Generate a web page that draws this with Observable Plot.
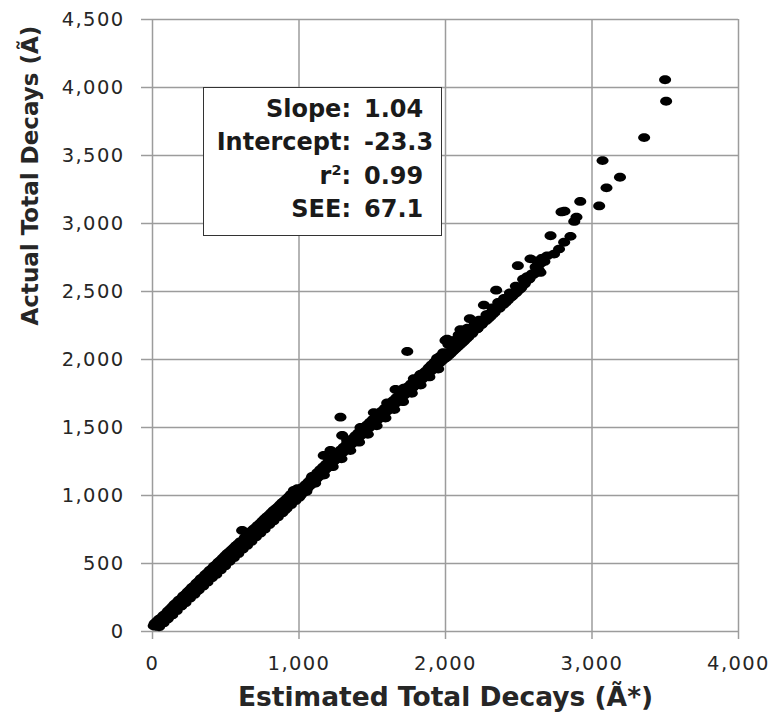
<!DOCTYPE html>
<html>
<head>
<meta charset="utf-8">
<script src="https://cdn.jsdelivr.net/npm/d3@7"></script>
<script src="https://cdn.jsdelivr.net/npm/@observablehq/plot@0.6"></script>
<style>
  html, body { margin: 0; padding: 0; background: #fff; }
  #wrap { position: relative; width: 775px; height: 714px; overflow: hidden; }
  g[aria-label="y-axis tick label"] text,
  g[aria-label="x-axis tick label"] text { letter-spacing: 1.4px; }
  #stats {
    position: absolute; left: 203px; top: 87px; width: 239px; height: 149px;
    box-sizing: border-box; border: 1.5px solid #333; background: #fff;
    font-family: "DejaVu Sans", sans-serif; font-weight: bold; font-size: 24px; color: #1a1a1a;
    display: grid; grid-template-columns: 147px auto; column-gap: 13px;
    line-height: 33.3px; padding-top: 5px; align-content: start;
  }
  #stats .lab { text-align: right; white-space: nowrap; }
  #stats .val { text-align: left; white-space: nowrap; }
  #stats sup { font-size: 0.6em; vertical-align: 0.62em; line-height: 0; }
</style>
</head>
<body>
<div id="wrap"></div>
<script>
// ---- axis ticks / titles ----
const xTicks = [0, 1000, 2000, 3000, 4000];
const yTicks = [0, 500, 1000, 1500, 2000, 2500, 3000, 3500, 4000, 4500];
const xTitle = "Estimated Total Decays (Ã*)";
const yTitle = "Actual Total Decays (Ã)";

// ---- regression statistics (text box) ----
const statLabels = ["Slope:", "Intercept:", "r2:", "SEE:"];
const statValues = ["1.04", "-23.3", "0.99", "67.1"];

// ---- points: estimated (x) and actual (y) ----
const estLow = [8,20,35,50,65,80,95,110,125,140,155,170,185,200,215,230,245,260,275,290,305,320,335,350,365,380,395,410,425,440,455,470,485,500,515,530,545,560,575,590,605,620,635,650,665,680,695,710,725,740,755,770,785,800,815,830,845,860,875,890,905,920,935,950,965,980,995];
const actLow = [42,38,55,62,80,95,108,130,140,160,175,190,205,222,240,252,270,285,300,318,332,350,362,380,398,410,428,445,458,472,490,505,520,535,552,565,582,598,612,628,640,655,672,685,700,715,728,742,758,770,786,800,815,830,842,858,872,886,900,915,928,942,958,970,985,998,1012];

const estLowUp = [30,60,90,120,150,180,210,240,270,300,330,360,390,420,450,480,510,540,570,612,600,630,660,690,720,750,780,810,840,870,900,930,965,990,100,200,300,400,500,600,700,800,900,1000];
const actLowUp = [75,100,130,165,200,230,262,292,325,355,388,418,450,480,510,540,572,600,632,743,660,690,722,752,782,812,842,872,902,930,960,990,1037,1050,90,195,295,395,498,600,700,795,890,985];

const estLowEdge = [45,75,105,135,165,195,225,255,285,315,345,375,405,435,465,495,525,555,585,615,645,675,705,735,765,795,825,855,885,915,945,975];
const actLowEdge = [35,62,95,122,152,185,212,245,272,305,332,362,395,420,452,482,515,542,572,605,632,662,695,722,752,785,812,842,872,905,932,962];

const estUpEdge = [15,45,75,105,135,165,195,225,255,285,315,345,375,405,435,465,495,525,555,585,645,675,705,735,765,795,825,855,885,915,945,975];
const actUpEdge = [60,90,118,150,180,212,240,272,305,335,368,398,430,460,492,522,555,585,615,645,705,738,765,795,828,855,888,915,948,975,1008,1030];

const estMid = [1010,1040,1070,1100,1130,1160,1190,1220,1250,1280,1310,1340,1370,1400,1430,1460,1490,1520,1550,1580,1610,1640,1670,1700,1730,1760,1790,1820,1850,1880,1910,1940,1970,1995,
  1025,1065,1105,1145,1185,1225,1265,1305,1345,1385,1425,1465,1505,1545,1585,1625,1665,1705,1745,1785,1825,1865,1905,1945,1985,
  1050,1110,1170,1230,1290,1350,1410,1470,1530,1590,1650,1710,1770,1830,1890,1950];
const actMid = [1000,1035,1068,1100,1135,1168,1200,1232,1265,1298,1330,1360,1392,1420,1450,1480,1512,1540,1572,1600,1630,1660,1690,1720,1750,1778,1808,1838,1866,1895,1925,1955,1985,2010,
  1060,1100,1145,1190,1230,1270,1315,1355,1395,1440,1480,1520,1560,1600,1640,1680,1720,1760,1800,1840,1880,1915,1960,2000,2050,
  1030,1090,1150,1212,1270,1330,1392,1450,1512,1570,1632,1690,1752,1812,1872,1930];

const estMidFill = [1025,1055,1085,1115,1145,1175,1205,1235,1265,1295,1325,1355,1385,1415,1445,1475,1505,1535,1565,1595,1625,1655,1685,1715,1745,1775,1805,1835,1865,1895,1925,1955,1985,
  1045,1085,1125,1165,1205,1245,1285,1325,1365,1405,1445,1485,1525,1565,1605,1645,1685,1725,1765,1805,1845,1885,1925,1965];
const actMidFill = [1018,1050,1085,1118,1150,1185,1215,1250,1282,1312,1345,1375,1405,1435,1465,1495,1525,1555,1585,1615,1645,1675,1705,1735,1765,1792,1822,1852,1880,1910,1940,1970,2000,
  1080,1125,1168,1210,1250,1292,1335,1375,1418,1460,1500,1540,1580,1620,1660,1700,1740,1780,1820,1860,1898,1938,1980,2025];

const estMidUp = [1090,1169,1215,1283,1295,1329,1420,1511,1602,1659,1716,1739,1784,1829,1898,1943,2000];
const actMidUp = [1140,1294,1331,1576,1441,1404,1500,1610,1680,1780,1790,2059,1860,1890,1950,2010,2140];

const estHigh = [2011,2034,2020,2050,2080,2102,2110,2125,2140,2166,2160,2193,2180,2220,2240,2262,2250,2290,2307,2320,2346,2340,2352,2370,2410,2421,2444,2475,2489,2494,2505,2540,2558,2570,2580,2590,2600,2626,2615,2648,2660,2648,2675,2065,2205,2270,2390,2460,2520];
const actHigh = [2150,2060,2030,2060,2090,2220,2120,2170,2150,2300,2190,2230,2190,2230,2270,2400,2262,2300,2340,2330,2510,2370,2385,2380,2420,2445,2455,2485,2515,2690,2515,2555,2610,2590,2740,2630,2625,2725,2680,2705,2745,2640,2720,2100,2230,2300,2410,2480,2535];

const estHighFill = [2005,2035,2065,2095,2125,2155,2185,2215,2245,2275,2305,2335,2365,2395,2425,2455,2485,2515,2545,2575,2605,2635,
  2020,2060,2090,2130,2150,2200,2230,2280,2320,2360,2400,2440,2480,2530];
const actHighFill = [2015,2045,2075,2105,2135,2165,2200,2225,2255,2285,2315,2345,2375,2405,2435,2465,2495,2525,2570,2600,2635,2660,
  2110,2140,2180,2200,2230,2260,2290,2330,2380,2420,2450,2490,2540,2590];

const estTop = [2694,2717,2741,2775,2792,2810,2812,2853,2879,2894,2920,3049,3072,3099,3191,3356,3499,3506];
const actTop = [2762,2910,2775,2812,3085,2862,3090,2906,3015,3047,3162,3129,3463,3262,3340,3632,4057,3899];

const estimated = [...estLow, ...estLowUp, ...estLowEdge, ...estUpEdge, ...estMid, ...estMidFill, ...estMidUp, ...estHigh, ...estHighFill, ...estTop];
const actual = [...actLow, ...actLowUp, ...actLowEdge, ...actUpEdge, ...actMid, ...actMidFill, ...actMidUp, ...actHigh, ...actHighFill, ...actTop];
const points = estimated.map((x, i) => ({x, y: actual[i]}));

// Excel-like slightly flattened marker (drawn as an ellipse)
const ellipseSymbol = {
  draw(ctx) {
    const rx = 6, ry = 4.4, k = 0.5523, kx = rx * k, ky = ry * k;
    ctx.moveTo(rx, 0);
    ctx.bezierCurveTo(rx, ky, kx, ry, 0, ry);
    ctx.bezierCurveTo(-kx, ry, -rx, ky, -rx, 0);
    ctx.bezierCurveTo(-rx, -ky, -kx, -ry, 0, -ry);
    ctx.bezierCurveTo(kx, -ry, rx, -ky, rx, 0);
    ctx.closePath();
  }
};

const gridColor = "#9c9c9c";
const textColor = "#262626";

const chart = Plot.plot({
  width: 775,
  height: 714,
  marginLeft: 152,
  marginRight: 37,
  marginTop: 19,
  marginBottom: 83,
  x: {domain: [0, 4000]},
  y: {domain: [0, 4500]},
  style: {fontFamily: "DejaVu Sans, sans-serif", background: "#fff", color: textColor, overflow: "visible"},
  marks: [
    Plot.gridY(yTicks, {stroke: gridColor, strokeOpacity: 1, strokeWidth: 1.5}),
    Plot.gridX(xTicks, {stroke: gridColor, strokeOpacity: 1, strokeWidth: 1.5}),
    Plot.axisY(yTicks, {tickSize: 11, tickPadding: 17, tickFormat: d3.format(","), stroke: gridColor, strokeWidth: 1.5, fill: textColor, fontSize: 19.5, label: null}),
    Plot.axisX(xTicks, {tickSize: 8, tickPadding: 17, tickFormat: d3.format(","), stroke: gridColor, strokeWidth: 1.5, fill: textColor, fontSize: 19.5, label: null}),
    Plot.dot(points, {x: "x", y: "y", symbol: ellipseSymbol, r: 5, fill: "#000", stroke: "none"}),
    Plot.text([yTitle], {text: d => d, frameAnchor: "left", dx: -122, rotate: -90, lineAnchor: "middle", fontSize: 23, fontWeight: "bold", fill: textColor}),
    Plot.text([xTitle], {text: d => d, frameAnchor: "bottom", dy: 66.5, lineAnchor: "middle", fontSize: 26.5, fontWeight: "bold", fill: textColor})
  ]
});

const wrap = document.getElementById("wrap");
wrap.appendChild(chart);

// statistics text box
const box = document.createElement("div");
box.id = "stats";
statLabels.forEach((lab, i) => {
  const l = document.createElement("div");
  l.className = "lab";
  if (lab === "r2:") l.innerHTML = "r<sup>2</sup>:"; else l.textContent = lab;
  const v = document.createElement("div");
  v.className = "val";
  v.textContent = statValues[i];
  box.appendChild(l);
  box.appendChild(v);
});
wrap.appendChild(box);
</script>
</body>
</html>
